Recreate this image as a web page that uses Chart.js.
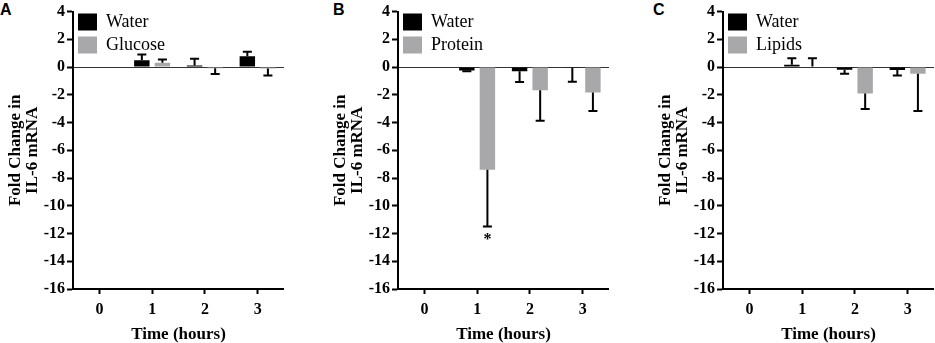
<!DOCTYPE html>
<html>
<head>
<meta charset="utf-8">
<script src="https://cdn.jsdelivr.net/npm/chart.js@4.4.1/dist/chart.umd.min.js"></script>
<style>
  body { margin: 0; background: #fff; }
  #wrap { position: relative; width: 935px; height: 343px; overflow: hidden; }
  .panel { position: absolute; top: 0; }
  .letter { position: absolute; top: 0px; font: bold 16px "Liberation Sans", Arial, sans-serif; line-height: 20px; }
</style>
</head>
<body>
<div id="wrap">
  <div class="letter" style="left:0px">A</div>
  <div class="letter" style="left:333px">B</div>
  <div class="letter" style="left:653px">C</div>
  <canvas class="panel" id="chartA" width="284" height="343" style="left:0px"></canvas>
  <canvas class="panel" id="chartB" width="284" height="343" style="left:325px"></canvas>
  <canvas class="panel" id="chartC" width="284" height="343" style="left:650px"></canvas>
</div>
<script>
const hours = ["0", "1", "2", "3"];
const yTicksMin = -16, yTicksMax = 4, yStep = 2;

// panel A: water vs glucose
const waterA = [0, 0.5, 0.12, 0.78];
const waterAErr = [0, 0.4, 0.48, 0.32];
const glucose = [0, 0.31, -0.08, -0.1];
const glucoseErr = [0, 0.23, 0.42, 0.5];

// panel B: water vs protein
const waterB = [0, -0.25, -0.3, -0.05];
const waterBErr = [0, 0.05, 0.77, 1.0];
const protein = [0, -7.4, -1.67, -1.84];
const proteinErr = [0, 4.1, 2.2, 1.33];
const proteinSig = ["", "*", "", ""];

// panel C: water vs lipids
const waterC = [0, 0.17, -0.19, -0.21];
const waterCErr = [0, 0.47, 0.29, 0.39];
const lipids = [0, 0.05, -1.91, -0.48];
const lipidsErr = [0, 0.59, 1.12, 2.69];

const SERIF = "'Liberation Serif', 'Times New Roman', serif";
const GRAY = "#a8a8aa";
Chart.defaults.font.family = SERIF;
Chart.defaults.color = "#000";

// one-sided error bars (away from zero) + significance marks
const errorBars = {
  id: "errorBars",
  afterDatasetsDraw(chart) {
    const ctx = chart.ctx;
    const y = chart.scales.y;
    ctx.save();
    ctx.strokeStyle = "#000";
    ctx.lineWidth = 2;
    chart.data.datasets.forEach((ds, i) => {
      const meta = chart.getDatasetMeta(i);
      meta.data.forEach((bar, j) => {
        const v = ds.data[j];
        const e = ds.errors[j];
        if (!e) return;
        const dir = v < 0 ? -1 : 1;
        const y0 = y.getPixelForValue(v);
        const y1 = y.getPixelForValue(v + dir * e);
        ctx.beginPath();
        ctx.moveTo(bar.x, y0);
        ctx.lineTo(bar.x, y1);
        ctx.moveTo(bar.x - 4.5, y1);
        ctx.lineTo(bar.x + 4.5, y1);
        ctx.stroke();
        if (ds.sig && ds.sig[j]) {
          ctx.fillStyle = "#000";
          ctx.font = "bold 16px " + SERIF;
          ctx.textAlign = "center";
          ctx.textBaseline = "top";
          ctx.fillText(ds.sig[j], bar.x, y1 + 5);
        }
      });
    });
    ctx.restore();
  }
};

function makeChart(id, label2, w, wErr, d2, d2Err, sig) {
  new Chart(document.getElementById(id), {
    type: "bar",
    data: {
      labels: hours,
      datasets: [
        { label: "Water", data: w, errors: wErr, backgroundColor: "#000", borderWidth: 0 },
        { label: label2, data: d2, errors: d2Err, sig: sig, backgroundColor: GRAY, borderWidth: 0 }
      ]
    },
    options: {
      responsive: false,
      animation: false,
      categoryPercentage: 0.78,
      barPercentage: 0.75,
      layout: { padding: 0 },
      plugins: {
        tooltip: { enabled: false },
        legend: {
          position: "chartArea",
          align: "start",
          title: { display: true, text: "", padding: 0, font: { size: 8, lineHeight: 1 } },
          labels: {
            color: "#000",
            font: { family: SERIF, size: 18 },
            boxWidth: 19,
            boxHeight: 17,
            padding: 5
          }
        }
      },
      scales: {
        x: {
          offset: true,
          grid: { offset: false, drawOnChartArea: false, drawTicks: true, tickLength: 5, tickColor: "#000", tickWidth: 2 },
          border: { display: true, color: "#000", width: 2 },
          ticks: { color: "#000", font: { family: SERIF, size: 16, weight: "bold" }, padding: 6 },
          title: {
            display: true, text: "Time (hours)", color: "#000",
            font: { family: SERIF, size: 17, weight: "bold", lineHeight: 1.0 },
            padding: { top: 0, bottom: 0 }
          },
          afterFit(scale) { scale.height = 343 - 289; }
        },
        y: {
          min: yTicksMin,
          max: yTicksMax,
          ticks: { stepSize: yStep, color: "#000", font: { family: SERIF, size: 16, weight: "bold" }, padding: 2 },
          grid: {
            color: c => (c.tick && c.tick.value === 0 ? "#333" : "rgba(0,0,0,0)"),
            lineWidth: 1,
            tickColor: "#000",
            tickWidth: 2,
            tickLength: 6
          },
          border: { display: true, color: "#000", width: 2 },
          title: {
            display: true, text: ["Fold Change in", "IL-6 mRNA"], color: "#000",
            font: { family: SERIF, size: 17, weight: "bold", lineHeight: 1.0 },
            padding: { top: 7.5, bottom: 0 }
          },
          afterFit(scale) { scale.width = 73; }
        }
      }
    },
    plugins: [errorBars]
  });
}

makeChart("chartA", "Glucose", waterA, waterAErr, glucose, glucoseErr, null);
makeChart("chartB", "Protein", waterB, waterBErr, protein, proteinErr, proteinSig);
makeChart("chartC", "Lipids", waterC, waterCErr, lipids, lipidsErr, null);
</script>
</body>
</html>
